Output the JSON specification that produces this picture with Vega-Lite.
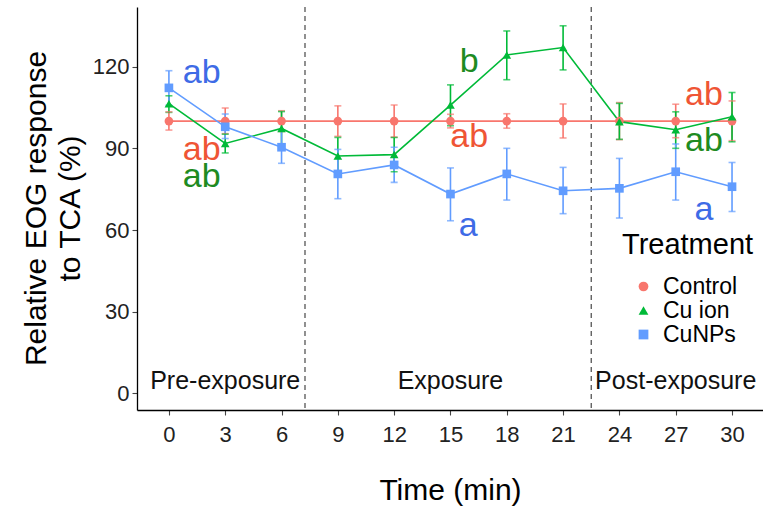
{
  "$schema": "https://vega.github.io/schema/vega-lite/v6.json",
  "width": 626,
  "height": 403,
  "autosize": {"type": "none"},
  "padding": {"left": 137, "top": 7, "right": 0, "bottom": 98},
  "background": "white",
  "config": {
    "view": {"stroke": null},
    "font": "Liberation Sans",
    "axis": {
      "grid": false,
      "domainColor": "#000000",
      "domainWidth": 1.3,
      "tickColor": "#444444",
      "tickSize": 5,
      "tickWidth": 1.1,
      "labelColor": "#222222",
      "labelFont": "Liberation Sans",
      "labelFontSize": 22,
      "titleFont": "Liberation Sans",
      "titleFontSize": 30,
      "titleFontWeight": "normal",
      "titleColor": "#000000"
    },
    "legend": {
      "padding": 0,
      "titleFontSize": 29,
      "titleFont": "Liberation Sans",
      "titleFontWeight": "normal",
      "titleColor": "#000000",
      "titlePadding": 15,
      "labelFontSize": 23,
      "labelFont": "Liberation Sans",
      "labelColor": "#000000",
      "labelOffset": 8,
      "rowPadding": -2,
      "symbolOffset": 10,
      "symbolSize": 95,
      "symbolStrokeWidth": 0,
      "symbolOpacity": 1
    }
  },
  "datasets": {
    "obs": [
      {"t": 0, "trt": "Control", "m": 100, "lo": 96.7, "hi": 103.4},
      {"t": 3, "trt": "Control", "m": 100, "lo": 95.4, "hi": 104.8},
      {"t": 6, "trt": "Control", "m": 100, "lo": 96.2, "hi": 103.8},
      {"t": 9, "trt": "Control", "m": 100, "lo": 94.4, "hi": 105.6},
      {"t": 12, "trt": "Control", "m": 100, "lo": 94.1, "hi": 105.9},
      {"t": 15, "trt": "Control", "m": 100, "lo": 97.5, "hi": 102.5},
      {"t": 18, "trt": "Control", "m": 100, "lo": 97.4, "hi": 102.7},
      {"t": 21, "trt": "Control", "m": 100, "lo": 93.8, "hi": 106.3},
      {"t": 24, "trt": "Control", "m": 100, "lo": 93.2, "hi": 106.8},
      {"t": 27, "trt": "Control", "m": 100, "lo": 93.9, "hi": 106.2},
      {"t": 30, "trt": "Control", "m": 100, "lo": 92.8, "hi": 107.4},
      {"t": 0, "trt": "Cu ion", "m": 106.4, "lo": 103.2, "hi": 109.3},
      {"t": 3, "trt": "Cu ion", "m": 91.8, "lo": 88.3, "hi": 95.2},
      {"t": 6, "trt": "Cu ion", "m": 97.3, "lo": 91.6, "hi": 103.5},
      {"t": 9, "trt": "Cu ion", "m": 87.2, "lo": 80.8, "hi": 94.0},
      {"t": 12, "trt": "Cu ion", "m": 87.7, "lo": 81.4, "hi": 94.0},
      {"t": 15, "trt": "Cu ion", "m": 105.9, "lo": 98.3, "hi": 113.3},
      {"t": 18, "trt": "Cu ion", "m": 124.3, "lo": 115.2, "hi": 133.1},
      {"t": 21, "trt": "Cu ion", "m": 127.0, "lo": 118.8, "hi": 135.0},
      {"t": 24, "trt": "Cu ion", "m": 99.8, "lo": 93.3, "hi": 106.5},
      {"t": 27, "trt": "Cu ion", "m": 96.8, "lo": 90.0, "hi": 103.4},
      {"t": 30, "trt": "Cu ion", "m": 101.6, "lo": 92.4, "hi": 110.5},
      {"t": 0, "trt": "CuNPs", "m": 112.2, "lo": 105.8, "hi": 118.5},
      {"t": 3, "trt": "CuNPs", "m": 97.9, "lo": 93.6, "hi": 102.6},
      {"t": 6, "trt": "CuNPs", "m": 90.4, "lo": 84.5, "hi": 96.3},
      {"t": 9, "trt": "CuNPs", "m": 80.6, "lo": 71.5, "hi": 89.6},
      {"t": 12, "trt": "CuNPs", "m": 83.9, "lo": 77.5, "hi": 90.4},
      {"t": 15, "trt": "CuNPs", "m": 73.2, "lo": 63.4, "hi": 82.8},
      {"t": 18, "trt": "CuNPs", "m": 80.6, "lo": 71.0, "hi": 90.0},
      {"t": 21, "trt": "CuNPs", "m": 74.4, "lo": 66.0, "hi": 83.0},
      {"t": 24, "trt": "CuNPs", "m": 75.3, "lo": 64.4, "hi": 86.3},
      {"t": 27, "trt": "CuNPs", "m": 81.4, "lo": 71.0, "hi": 91.6},
      {"t": 30, "trt": "CuNPs", "m": 75.9, "lo": 66.8, "hi": 84.8}
    ],
    "letters": [
      {"x": 1.75, "y": 117.7, "label": "ab", "grp": "CuNPs"},
      {"x": 1.75, "y": 89.4, "label": "ab", "grp": "Control"},
      {"x": 1.75, "y": 79.5, "label": "ab", "grp": "Cu ion"},
      {"x": 16.0, "y": 121.7, "label": "b", "grp": "Cu ion"},
      {"x": 16.0, "y": 94.2, "label": "ab", "grp": "Control"},
      {"x": 15.95, "y": 61.4, "label": "a", "grp": "CuNPs"},
      {"x": 28.5, "y": 109.6, "label": "ab", "grp": "Control"},
      {"x": 28.5, "y": 92.7, "label": "ab", "grp": "Cu ion"},
      {"x": 28.5, "y": 67.3, "label": "a", "grp": "CuNPs"}
    ],
    "phases": [
      {"x": 3, "y": 4.5, "label": "Pre-exposure"},
      {"x": 15, "y": 4.5, "label": "Exposure"},
      {"x": 27, "y": 4.5, "label": "Post-exposure"}
    ],
    "cuts": [{"x": 7.25}, {"x": 22.5}]
  },
  "layer": [
    {
      "data": {"name": "cuts"},
      "mark": {"type": "rule", "color": "#555555", "strokeDash": [5, 4], "strokeWidth": 1.3},
      "encoding": {
        "x": {"field": "x", "type": "quantitative", "scale": {"domain": [-1.7, 31.65], "nice": false, "zero": false}}
      }
    },
    {
      "data": {"name": "obs"},
      "mark": {"type": "rule", "strokeWidth": 1.6},
      "encoding": {
        "x": {"field": "t", "type": "quantitative"},
        "y": {"field": "lo", "type": "quantitative"},
        "y2": {"field": "hi"},
        "color": {"field": "trt", "type": "nominal", "legend": {"title": "Treatment", "orient": "none", "legendX": 485, "legendY": 224}}
      }
    },
    {
      "data": {"name": "obs"},
      "mark": {"type": "tick", "orient": "horizontal", "size": 7, "thickness": 1.6},
      "encoding": {
        "x": {"field": "t", "type": "quantitative"},
        "y": {"field": "lo", "type": "quantitative"},
        "color": {"field": "trt", "type": "nominal", "legend": {"title": "Treatment", "orient": "none", "legendX": 485, "legendY": 224}}
      }
    },
    {
      "data": {"name": "obs"},
      "mark": {"type": "tick", "orient": "horizontal", "size": 7, "thickness": 1.6},
      "encoding": {
        "x": {"field": "t", "type": "quantitative"},
        "y": {"field": "hi", "type": "quantitative"},
        "color": {"field": "trt", "type": "nominal", "legend": {"title": "Treatment", "orient": "none", "legendX": 485, "legendY": 224}}
      }
    },
    {
      "data": {"name": "obs"},
      "mark": {"type": "line", "strokeWidth": 1.6},
      "encoding": {
        "x": {"field": "t", "type": "quantitative"},
        "y": {"field": "m", "type": "quantitative"},
        "color": {"field": "trt", "type": "nominal", "legend": {"title": "Treatment", "orient": "none", "legendX": 485, "legendY": 224}}
      }
    },
    {
      "data": {"name": "obs"},
      "mark": {"type": "point", "filled": true, "opacity": 1, "size": 75},
      "encoding": {
        "x": {
          "field": "t", "type": "quantitative",
          "axis": {"values": [0, 3, 6, 9, 12, 15, 18, 21, 24, 27, 30], "title": "Time (min)", "labelPadding": 9, "titleY": 89, "titleBaseline": "alphabetic"}
        },
        "y": {
          "field": "m", "type": "quantitative",
          "scale": {"domain": [-6.1, 141.9], "nice": false, "zero": false},
          "axis": {"values": [0, 30, 60, 90, 120], "title": ["Relative EOG response", "to TCA (%)"], "labelPadding": 3, "titleAngle": -90, "titleX": -116, "titleY": 201, "titleBaseline": "top", "titleAlign": "center", "titleLineHeight": 34}
        },
        "color": {
          "field": "trt", "type": "nominal",
          "scale": {"domain": ["Control", "Cu ion", "CuNPs"], "range": ["#F8766D", "#00BA38", "#619CFF"]},
          "legend": {"title": "Treatment", "orient": "none", "legendX": 485, "legendY": 224}
        },
        "shape": {
          "field": "trt", "type": "nominal",
          "scale": {"domain": ["Control", "Cu ion", "CuNPs"], "range": ["circle", "triangle-up", "square"]},
          "legend": {"title": "Treatment", "orient": "none", "legendX": 485, "legendY": 224}
        }
      }
    },
    {
      "data": {"name": "letters"},
      "mark": {"type": "text", "fontSize": 34, "font": "Liberation Sans", "align": "center", "baseline": "middle"},
      "encoding": {
        "x": {"field": "x", "type": "quantitative"},
        "y": {"field": "y", "type": "quantitative"},
        "text": {"field": "label"},
        "fill": {
          "field": "grp", "type": "nominal",
          "scale": {"domain": ["Control", "Cu ion", "CuNPs"], "range": ["#EF5535", "#1E8B22", "#3E6BE6"]},
          "legend": null
        }
      }
    },
    {
      "data": {"name": "phases"},
      "mark": {"type": "text", "fontSize": 25, "font": "Liberation Sans", "align": "center", "baseline": "middle", "color": "#111111"},
      "encoding": {
        "x": {"field": "x", "type": "quantitative"},
        "y": {"field": "y", "type": "quantitative"},
        "text": {"field": "label"}
      }
    }
  ]
}
